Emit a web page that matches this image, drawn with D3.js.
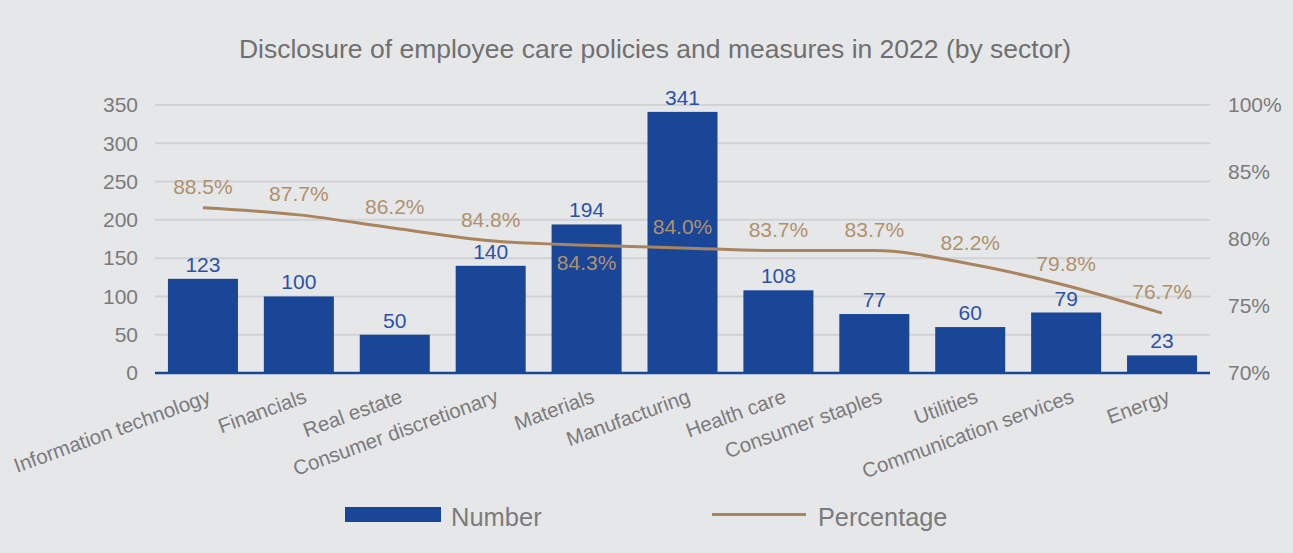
<!DOCTYPE html>
<html>
<head>
<meta charset="utf-8">
<script src="https://cdn.jsdelivr.net/npm/d3@7/dist/d3.min.js"></script>
<style>
  html, body { margin: 0; padding: 0; background: #e6e7e9; }
  svg { display: block; }
  text { font-family: "Liberation Sans", Arial, Helvetica, sans-serif; }
</style>
</head>
<body>
<svg id="chart" width="1293" height="553"></svg>
<script>
const titleText = "Disclosure of employee care policies and measures in 2022 (by sector)";
const categories = ["Information technology", "Financials", "Real estate", "Consumer discretionary", "Materials", "Manufacturing", "Health care", "Consumer staples", "Utilities", "Communication services", "Energy"];
const numberValues = [123, 100, 50, 140, 194, 341, 108, 77, 60, 79, 23];
const percentValues = [88.5, 87.7, 86.2, 84.8, 84.3, 84.0, 83.7, 83.7, 82.2, 79.8, 76.7];
const percentLabelSide = ["above", "above", "above", "above", "below", "above", "above", "above", "above", "above", "above"];
const leftTicks = [0, 50, 100, 150, 200, 250, 300, 350];
const rightTickLabels = ["70%", "75%", "80%", "85%", "100%"];
const legendLabels = ["Number", "Percentage"];

const barColor = "#1a4698";
const barLabelColor = "#2b52a8";
const lineColor = "#a8845f";
const pctLabelColor = "#b0916e";
const textColor = "#7b7b7b";
const gridColor = "#d1d2d4";

const svg = d3.select("#chart");
const W = 1293, H = 553;
svg.append("rect").attr("width", W).attr("height", H).attr("fill", "#e6e7e9");

const plot = { left: 155, right: 1210, top: 105, bottom: 373 };

const x = d3.scaleBand().domain(categories).range([plot.left, plot.right]).paddingInner(0.27).paddingOuter(0.135);
const yL = d3.scaleLinear().domain([0, 350]).range([plot.bottom, plot.top]);
const yR = d3.scaleLinear().domain([70, 100]).range([plot.bottom, plot.top]);
const yRLabels = d3.scalePoint().domain(rightTickLabels).range([plot.bottom, plot.top]);

// Title
svg.append("text")
  .attr("x", 655).attr("y", 58)
  .attr("text-anchor", "middle")
  .attr("font-size", 26.5)
  .attr("fill", "#707070")
  .text(titleText);

// Gridlines
svg.append("g").selectAll("line").data(leftTicks.filter(d => d > 0)).join("line")
  .attr("x1", plot.left).attr("x2", plot.right)
  .attr("y1", d => yL(d)).attr("y2", d => yL(d))
  .attr("stroke", gridColor).attr("stroke-width", 2);

// Left axis
const leftAxis = svg.append("g").attr("transform", `translate(${plot.left},0)`)
  .call(d3.axisLeft(yL).tickValues(leftTicks).tickSize(0).tickPadding(17));
leftAxis.select(".domain").remove();
leftAxis.selectAll("text").attr("font-size", 21).attr("fill", textColor)
  .attr("font-family", '"Liberation Sans", Arial, sans-serif');

// Right axis
const rightAxis = svg.append("g").attr("transform", `translate(${plot.right},0)`)
  .call(d3.axisRight(yRLabels).tickSize(0).tickPadding(18));
rightAxis.select(".domain").remove();
rightAxis.selectAll("text").attr("font-size", 21).attr("fill", textColor)
  .attr("font-family", '"Liberation Sans", Arial, sans-serif');

// Bars
svg.append("g").selectAll("rect").data(categories).join("rect")
  .attr("x", d => x(d))
  .attr("width", x.bandwidth())
  .attr("y", (d, i) => yL(numberValues[i]))
  .attr("height", (d, i) => yL(0) - yL(numberValues[i]))
  .attr("fill", barColor);

// Baseline
svg.append("line")
  .attr("x1", plot.left).attr("x2", plot.right)
  .attr("y1", yL(0)).attr("y2", yL(0))
  .attr("stroke", barColor).attr("stroke-width", 2.5);

// Bar labels
svg.append("g").selectAll("text").data(categories).join("text")
  .attr("x", d => x(d) + x.bandwidth() / 2)
  .attr("y", (d, i) => yL(numberValues[i]) - 7)
  .attr("text-anchor", "middle")
  .attr("font-size", 21)
  .attr("fill", barLabelColor)
  .text((d, i) => numberValues[i]);

// Line
const line = d3.line()
  .x((d, i) => x(categories[i]) + x.bandwidth() / 2)
  .y(d => yR(d))
  .curve(d3.curveMonotoneX);
svg.append("path").datum(percentValues)
  .attr("d", line)
  .attr("fill", "none")
  .attr("stroke", lineColor)
  .attr("stroke-width", 3);

// Percentage labels
svg.append("g").selectAll("text").data(categories).join("text")
  .attr("x", d => x(d) + x.bandwidth() / 2)
  .attr("y", (d, i) => percentLabelSide[i] === "below" ? yR(percentValues[i]) + 25 : yR(percentValues[i]) - 14)
  .attr("text-anchor", "middle")
  .attr("font-size", 21)
  .attr("fill", pctLabelColor)
  .text((d, i) => percentValues[i].toFixed(1) + "%");

// Category labels
svg.append("g").selectAll("text").data(categories).join("text")
  .attr("transform", d => `translate(${x(d) + x.bandwidth() / 2 + 9},${plot.bottom + 29}) rotate(-20)`)
  .attr("text-anchor", "end")
  .attr("font-size", 20.5)
  .attr("fill", textColor)
  .text(d => d);

// Legend
const lg = svg.append("g");
lg.append("rect").attr("x", 345).attr("y", 507).attr("width", 96).attr("height", 15).attr("fill", barColor);
lg.append("text").attr("x", 451).attr("y", 526).attr("font-size", 25.5).attr("fill", textColor).text(legendLabels[0]);
lg.append("line").attr("x1", 712).attr("x2", 806).attr("y1", 514.5).attr("y2", 514.5)
  .attr("stroke", lineColor).attr("stroke-width", 3);
lg.append("text").attr("x", 818).attr("y", 526).attr("font-size", 25.3).attr("fill", textColor).text(legendLabels[1]);
</script>
</body>
</html>
